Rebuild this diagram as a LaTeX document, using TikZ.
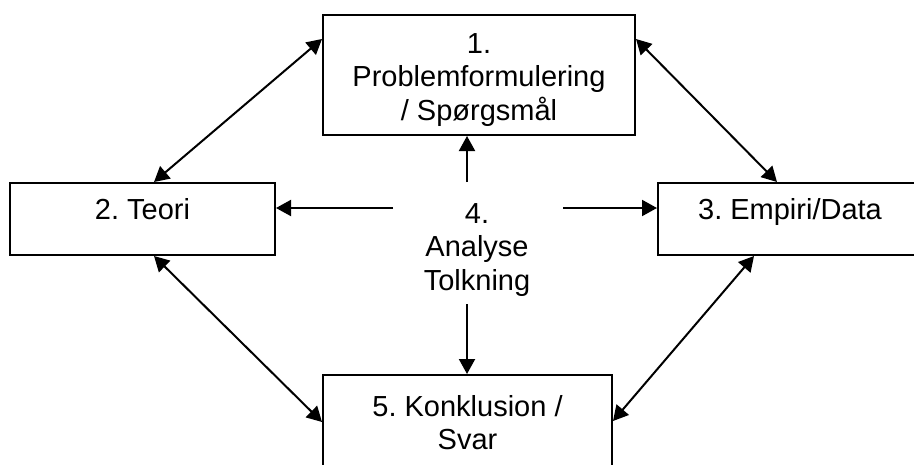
\documentclass[tikz,border=0pt]{standalone}
\usepackage{fontspec}
\setmainfont{Liberation Sans}
\frenchspacing
\usetikzlibrary{arrows.meta,calc}
\tikzset{
  flow/.style={-{Triangle[length=7.5pt,width=8pt]},line width=1pt},
  flowboth/.style={{Triangle[length=7.5pt,width=8pt]}-{Triangle[length=7.5pt,width=8pt]},line width=1pt},
  box/.style={draw,line width=1pt,inner sep=0pt},
  boxtext/.style={anchor=north,inner sep=0pt,align=center,
                  font=\fontsize{14.5}{16.7}\selectfont},
}
\begin{document}
\begin{tikzpicture}[x=0.5pt,y=-0.5pt]
  \clip (0,0) rectangle (914,465);
  \fill[white] (0,0) rectangle (914,465);

  % boxes
  \node[box,minimum width=156pt,minimum height=60pt] (b1) at (479,75) {};
  \node[box,minimum width=132.5pt,minimum height=36pt] (b2) at (142.5,219) {};
  \node[box,minimum width=132pt,minimum height=36pt] (b3) at (790,219) {};
  \node[box,minimum width=144.5pt,minimum height=60pt] (b5) at (467.5,435) {};

  % texts
  \node[boxtext] (t1) at (479,33) {1.\\Problemformulering\\/ Spørgsmål};
  \node[boxtext] (t2) at (142.5,198) {2. Teori};
  \node[boxtext] (t3) at (790,198) {3. Empiri/Data};
  \node[boxtext] (t4) at (477,203) {4.\\Analyse\\Tolkning};
  \node[boxtext] (t5) at (467.5,395) {5. Konklusion /\\Svar};

  % from the centre
  \coordinate (c4up) at (467,182);
  \coordinate (c4dn) at (467,304);
  \coordinate (c4l) at (393,208);
  \coordinate (c4r) at (563,208);
  \draw[flow] (c4up) -- (c4up |- b1.south);
  \draw[flow] (c4dn) -- (c4dn |- b5.north);
  \draw[flow] (c4l) -- (c4l -| b2.east);
  \draw[flow] (c4r) -- (c4r -| b3.west);

  % round the edge
  \draw[flowboth] ($(b1.north west)+(0,25)$) -- ($(b2.north west)+(145,0)$);
  \draw[flowboth] ($(b1.north east)+(0,25)$) -- ($(b3.north west)+(120,0)$);
  \draw[flowboth] ($(b2.south west)+(145,0)$) -- ($(b5.north west)+(0,48)$);
  \draw[flowboth] ($(b3.south west)+(97,0)$) -- ($(b5.north east)+(0,47)$);
\end{tikzpicture}
\end{document}
